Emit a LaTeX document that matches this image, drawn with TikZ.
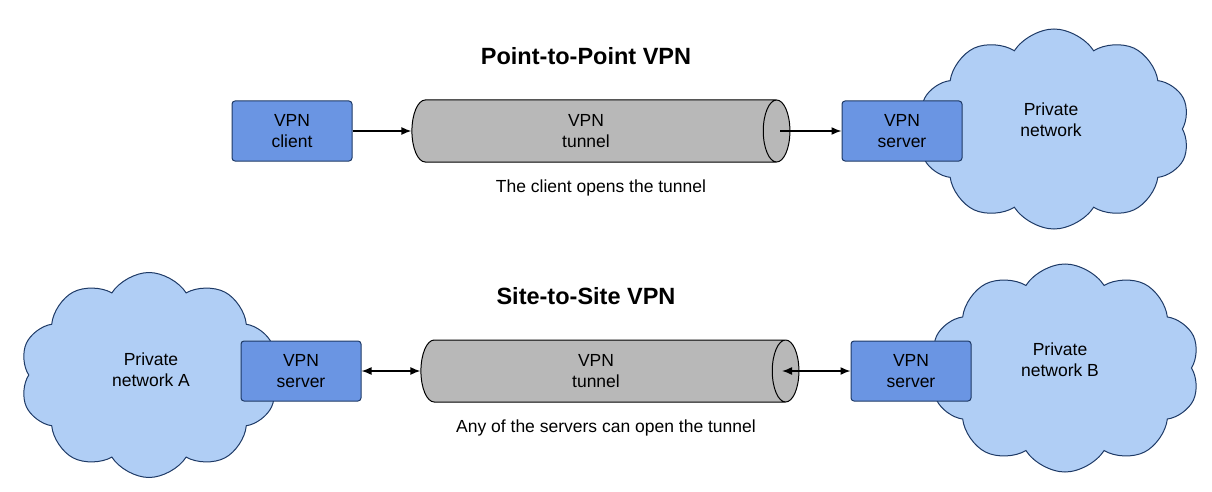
\documentclass[tikz,border=0pt]{standalone}
\usepackage{fontspec}
\setmainfont{Liberation Sans}
\usetikzlibrary{positioning}
\usetikzlibrary{arrows.meta}
\usetikzlibrary{shapes.geometric}
\usetikzlibrary{shapes.symbols}
\definecolor{boxblue}{HTML}{6A95E3}
\definecolor{cloudblue}{HTML}{B0CEF5}
\definecolor{edgeblue}{HTML}{1E3A66}
\definecolor{tubegray}{HTML}{B8B8B8}
\begin{document}
\begin{tikzpicture}[x=1pt, y=-1pt,
    every node/.style={font=\fontsize{17.5}{21}\selectfont, align=center},
    b/.style={draw=edgeblue, fill=boxblue, rounded corners=3pt, minimum width=120pt, minimum height=60pt, line width=1pt},
    c/.style={cloud, cloud puffs=10, cloud puff arc=115, aspect=1.3, draw=edgeblue, fill=cloudblue, line width=1pt},
    t/.style={cylinder, draw=black, fill=tubegray, shape aspect=4, minimum height=378pt, minimum width=62pt, line width=1pt},
    h/.style={font=\fontsize{23.5}{28}\selectfont\bfseries},
    a/.style={-{Latex[length=10pt,width=8pt]}, line width=1.5pt}]
    \useasboundingbox (0,0) rectangle (1212,492);
    % point to point
    \node[h] (h1) at (586,56) {Point-to-Point VPN};
    \node[c, minimum width=272pt, minimum height=200pt] (net) at (1054,129) {};
    \node at (1051,120) {Private\\network};
    \node[b] (cli) at (292,131) {VPN\\client};
    \node[t] (tun1) at (591,131) {};
    \node at (586,131) {VPN\\tunnel};
    \node[b] (srv) at (902,131) {VPN\\server};
    \node (cap1) [below=14pt of tun1, xshift=10pt] {The client opens the tunnel};
    \coordinate (o1) at (780,131);
    \draw[a] (cli) -- (tun1);
    \draw[a] (o1) -- (srv);
    % site to site
    \node[h] (h2) at (586,296) {Site-to-Site VPN};
    \node[c, minimum width=258pt, minimum height=205pt] (neta) at (149,375) {};
    \node at (151,370) {Private\\network A};
    \node[c, minimum width=270pt, minimum height=208pt] (netb) at (1065,368) {};
    \node at (1060,360) {Private\\network B};
    \node[b] (srva) at (301,371) {VPN\\server};
    \node[t] (tun2) at (600,371) {};
    \node at (596,371) {VPN\\tunnel};
    \node[b] (srvb) at (911,371) {VPN\\server};
    \node (cap2) [below=14pt of tun2, xshift=6pt] {Any of the servers can open the tunnel};
    \coordinate (o2) at (782,371);
    \draw[a, {Latex[length=10pt,width=8pt]}-{Latex[length=10pt,width=8pt]}] (srva) -- (tun2);
    \draw[a, {Latex[length=10pt,width=8pt]}-{Latex[length=10pt,width=8pt]}] (o2) -- (srvb);
\end{tikzpicture}
\end{document}
